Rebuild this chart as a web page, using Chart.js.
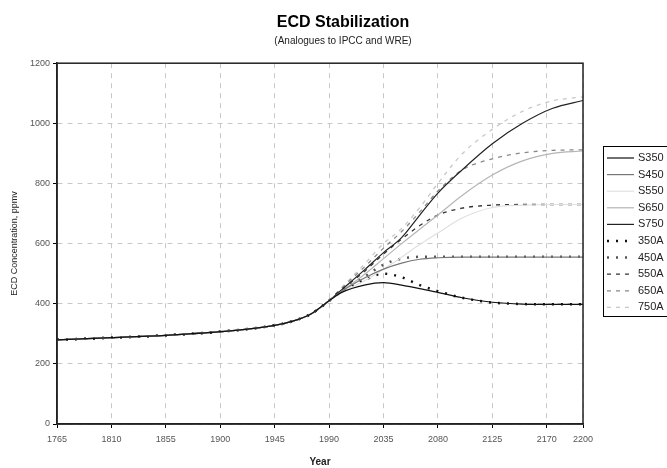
<!DOCTYPE html>
<html>
<head>
<meta charset="utf-8">
<script src="https://cdn.jsdelivr.net/npm/chart.js@4/dist/chart.umd.min.js"></script>
<style>
  html, body { margin: 0; padding: 0; background: #fff; overflow: hidden; }
  #wrap { width: 667px; height: 468px; }
</style>
</head>
<body>
<div id="wrap"><canvas id="grafico" width="667" height="468"></canvas></div>
<script>
// Historia comum a todas as series (ppmv)
const histYears = [1765, 1810, 1855, 1900, 1945, 1960, 1975, 1990];
const histValues = [280, 287, 295, 307, 328, 342, 366, 410];

// Anos das projecoes
const futureYears = [2000, 2020, 2035, 2050, 2065, 2080, 2100, 2125, 2150, 2175, 2200];

// Projecoes por cenario
const seriesNames = ['S350', 'S450', 'S550', 'S650', 'S750', '350A', '450A', '550A', '650A', '750A'];
const s350 = [437, 463, 470, 462, 450, 438, 420, 405, 399, 398, 398];
const s450 = [440, 487, 515, 535, 548, 553, 555, 555, 555, 555, 555];
const s550 = [437, 478, 515, 555, 597, 635, 685, 720, 728, 730, 730];
const s650 = [440, 500, 550, 600, 648, 695, 760, 828, 875, 900, 908];
const s750 = [445, 515, 570, 620, 695, 768, 845, 932, 1000, 1050, 1076];
const a350 = [440, 480, 500, 488, 462, 442, 420, 404, 399, 398, 398];
const a450 = [445, 492, 530, 550, 556, 556, 556, 556, 556, 556, 556];
const a550 = [445, 510, 565, 615, 660, 695, 718, 728, 730, 730, 730];
const a650 = [450, 525, 585, 640, 705, 775, 845, 882, 902, 910, 912];
const a750 = [452, 535, 600, 650, 720, 800, 898, 980, 1040, 1075, 1088];

// Rotulos dos eixos
const xTicks = [1765, 1810, 1855, 1900, 1945, 1990, 2035, 2080, 2125, 2170, 2200];
const yTicks = [0, 200, 400, 600, 800, 1000, 1200];

const allSeries = [s350, s450, s550, s650, s750, a350, a450, a550, a650, a750];

// estilo de cada linha
const estilos = [
    { color: '#111111', width: 1.2, dash: [] },
    { color: '#777777', width: 1.2, dash: [] },
    { color: '#e0e0e0', width: 1.2, dash: [] },
    { color: '#b5b5b5', width: 1.2, dash: [] },
    { color: '#222222', width: 1.2, dash: [] },
    { color: '#111111', width: 2.5, dash: [2, 7] },
    { color: '#555555', width: 2.5, dash: [2, 7] },
    { color: '#333333', width: 1.3, dash: [4, 5] },
    { color: '#888888', width: 1.3, dash: [4, 5] },
    { color: '#c8c8c8', width: 1.3, dash: [4, 5] }
];

function montarPontos(valores) {
    let pts = histYears.map((ano, i) => ({ x: ano, y: histValues[i] }));
    futureYears.forEach((ano, i) => pts.push({ x: ano, y: valores[i] }));
    return pts;
}

const datasets = allSeries.map((valores, i) => ({
    label: seriesNames[i],
    data: montarPontos(valores),
    borderColor: estilos[i].color,
    borderWidth: estilos[i].width,
    borderDash: estilos[i].dash,
    pointRadius: 0,
    fill: false,
    cubicInterpolationMode: 'monotone'
}));

const fonte = '"Liberation Sans", Arial, sans-serif';

// legenda desenhada a mao (cortada na borda direita como no original)
const legendaPlugin = {
    id: 'legenda',
    afterDraw(chart) {
        const c = chart.ctx;
        c.save();
        c.strokeStyle = '#000';
        c.lineWidth = 1;
        c.strokeRect(603.5, 146.5, 120, 170);
        chart.data.datasets.forEach((ds, i) => {
            const y = 158 + i * 16.6;
            c.beginPath();
            c.strokeStyle = ds.borderColor;
            c.lineWidth = ds.borderWidth;
            c.setLineDash(ds.borderDash);
            c.moveTo(607, y);
            c.lineTo(634, y);
            c.stroke();
            c.setLineDash([]);
            c.fillStyle = '#222';
            c.font = '11px ' + fonte;
            c.textBaseline = 'middle';
            c.fillText(ds.label, 638, y);
        });
        // moldura da area do grafico
        const a = chart.chartArea;
        c.strokeStyle = '#222';
        c.lineWidth = 1.5;
        c.strokeRect(a.left, a.top, a.right - a.left, a.bottom - a.top);
        c.restore();
    }
};

function eixoBase(ticks, tamanho, prop) {
    return {
        afterBuildTicks: (s) => { s.ticks = ticks.map(v => ({ value: v })); },
        afterFit: (s) => { s[prop] = tamanho; },
        grid: {
            color: '#c8c8c8',
            tickColor: '#000',
            tickBorderDash: [],
            tickLength: 4,
            lineWidth: 1
        },
        border: { color: '#222', width: 1.5, dash: [5, 5] }
    };
}

const ctx = document.getElementById('grafico').getContext('2d');
const grafico = new Chart(ctx, {
    type: 'line',
    data: { datasets: datasets },
    options: {
        responsive: false,
        animation: false,
        layout: { padding: { left: 19, right: 0, top: 0, bottom: 0 } },
        plugins: {
            legend: { display: false },
            tooltip: { enabled: false },
            title: {
                display: true,
                text: 'ECD Stabilization',
                color: '#000',
                font: { family: fonte, size: 16, weight: 'bold' },
                padding: { top: 13, bottom: 2 }
            },
            subtitle: {
                display: true,
                text: '(Analogues to IPCC and WRE)',
                color: '#222',
                font: { family: fonte, size: 10 },
                padding: { top: 1, bottom: 16 }
            }
        },
        scales: {
            x: Object.assign(eixoBase(xTicks, 44, 'height'), {
                type: 'linear',
                min: 1765,
                max: 2200,
                ticks: {
                    color: '#555',
                    padding: 6,
                    maxRotation: 0,
                    autoSkip: false,
                    callback: (v) => String(v),
                    font: { family: fonte, size: 9 }
                },
                title: {
                    display: true,
                    text: 'Year',
                    color: '#222',
                    font: { family: fonte, size: 10, weight: 'bold' },
                    padding: { top: 0, bottom: 0 }
                }
            }),
            y: Object.assign(eixoBase(yTicks, 38, 'width'), {
                min: 0,
                max: 1200,
                ticks: {
                    color: '#555',
                    padding: 3,
                    callback: (v) => String(v),
                    font: { family: fonte, size: 9 }
                },
                title: {
                    display: true,
                    text: 'ECD Concentration, ppmv',
                    color: '#222',
                    font: { family: fonte, size: 9 },
                    padding: { top: -10, bottom: 0 }
                }
            }),
            // eixo vazio so para reservar o espaco da legenda
            espaco: {
                position: 'right',
                display: true,
                afterFit: (s) => { s.width = 84; },
                grid: { display: false, drawTicks: false },
                border: { display: false },
                ticks: { display: false }
            }
        }
    },
    plugins: [legendaPlugin]
});
</script>
</body>
</html>
